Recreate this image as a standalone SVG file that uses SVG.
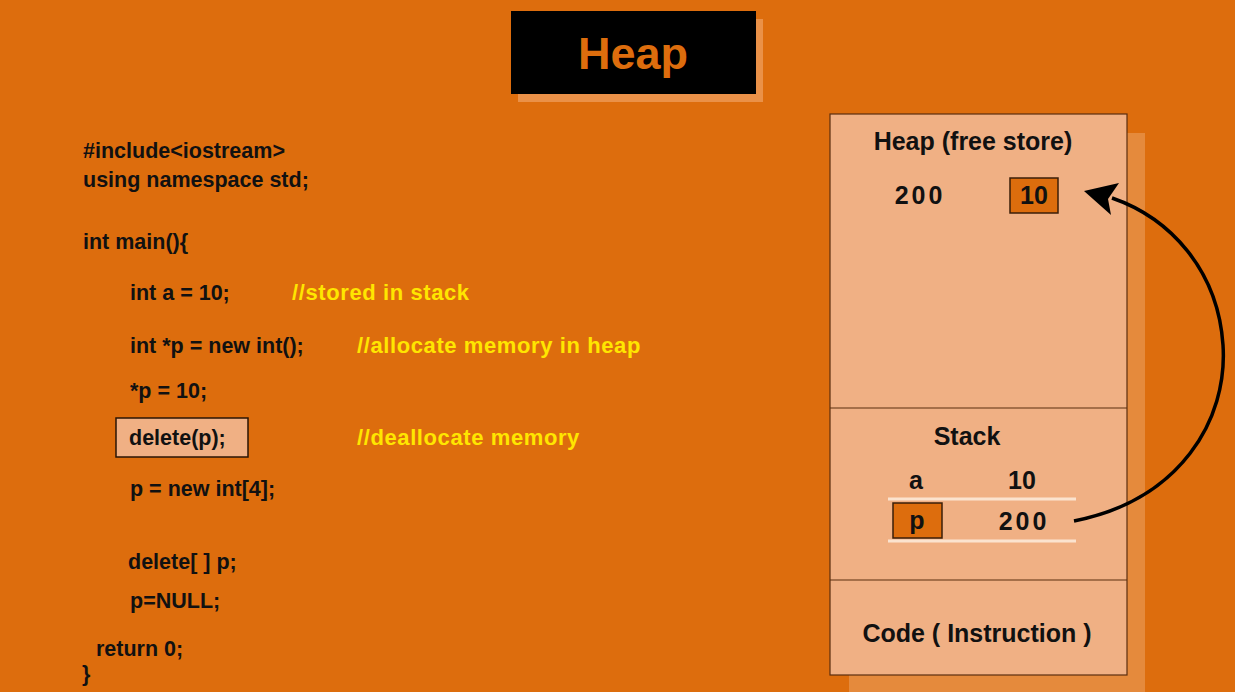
<svg xmlns="http://www.w3.org/2000/svg" width="1235" height="692" viewBox="0 0 1235 692">
<style>
.code{font-family:"Liberation Sans",Arial,sans-serif;font-weight:bold;font-size:21.5px;fill:#111}
.cmt{font-family:"Liberation Sans",Arial,sans-serif;font-weight:bold;font-size:22px;letter-spacing:0.6px;fill:#FFE600}
.mem{font-family:"Liberation Sans",Arial,sans-serif;font-weight:bold;font-size:25px;fill:#111;text-anchor:middle}
.num{letter-spacing:3px}
.panel{fill:#F0B084;stroke:#5A2E0E;stroke-width:1.2}
.cell{fill:#DD6D0D;stroke:#3A1E08;stroke-width:1.5}
.shadow{fill:#E58A3C}
.sep{stroke:#5A2E0E;stroke-width:1.2}
.wline{stroke:#FBE3CF;stroke-width:3}
</style>
<rect width="1235" height="692" fill="#DD6D0D"/>

<g id="title">
<rect x="518" y="19" width="245" height="83" fill="#EA9148"/>
<rect x="511" y="11" width="245" height="83" fill="#000"/>
<text x="633" y="69" text-anchor="middle" font-family="'Liberation Sans',Arial,sans-serif" font-weight="bold" font-size="45" fill="#DD6D0D">Heap</text>
</g>

<g id="code">
<text class="code" x="83" y="158">#include&lt;iostream&gt;</text>
<text class="code" x="83" y="187">using namespace std;</text>
<text class="code" x="83" y="249">int main(){</text>
<text class="code" x="130" y="300">int a = 10;</text>
<text class="cmt" x="292" y="300">//stored in stack</text>
<text class="code" x="130" y="353">int *p = new int();</text>
<text class="cmt" x="357" y="353">//allocate memory in heap</text>
<text class="code" x="130" y="398">*p = 10;</text>
<g id="delete-box">
<rect x="116" y="418" width="132" height="39" fill="#F0B084" stroke="#2A1505" stroke-width="1.5"/>
<text class="code" x="129" y="445">delete(p);</text>
</g>
<text class="cmt" x="357" y="445">//deallocate memory</text>
<text class="code" x="130" y="496">p = new int[4];</text>
<text class="code" x="128" y="569">delete[ ] p;</text>
<text class="code" x="130" y="608">p=NULL;</text>
<text class="code" x="96" y="656">return 0;</text>
<text class="code" x="82" y="681">}</text>
</g>

<g id="memory">
<rect class="shadow" x="849" y="133" width="296" height="559"/>
<rect class="panel" x="830" y="114" width="297" height="561"/>
<line class="sep" x1="830" y1="408" x2="1127" y2="408"/>
<line class="sep" x1="830" y1="580" x2="1127" y2="580"/>
</g>

<g id="heap-section">
<text class="mem" x="973" y="150">Heap (free store)</text>
<text class="mem num" x="920" y="204">200</text>
<g id="heap-cell">
<rect class="cell" x="1010" y="178" width="48" height="35"/>
<text class="mem" x="1034" y="204">10</text>
</g>
</g>

<g id="stack-section">
<text class="mem" x="967" y="445">Stack</text>
<text class="mem" x="916" y="489">a</text>
<text class="mem" x="1022" y="489">10</text>
<line class="wline" x1="888" y1="499" x2="1076" y2="499"/>
<g id="p-cell">
<rect class="cell" x="893" y="503" width="49" height="35"/>
<text class="mem" x="917" y="529">p</text>
</g>
<text class="mem num" x="1024" y="530">200</text>
<line class="wline" x1="888" y1="541" x2="1076" y2="541"/>
</g>

<g id="code-section">
<text class="mem" x="977" y="642">Code ( Instruction )</text>
</g>

<g id="connectors">
<path d="M1074,521 C1180,500 1228,420 1223,345 C1218,270 1170,218 1112,198" fill="none" stroke="#000" stroke-width="3.5"/>
<polygon points="1084,191 1119,183 1108,199 1111,215" fill="#000"/>
</g>
</svg>
